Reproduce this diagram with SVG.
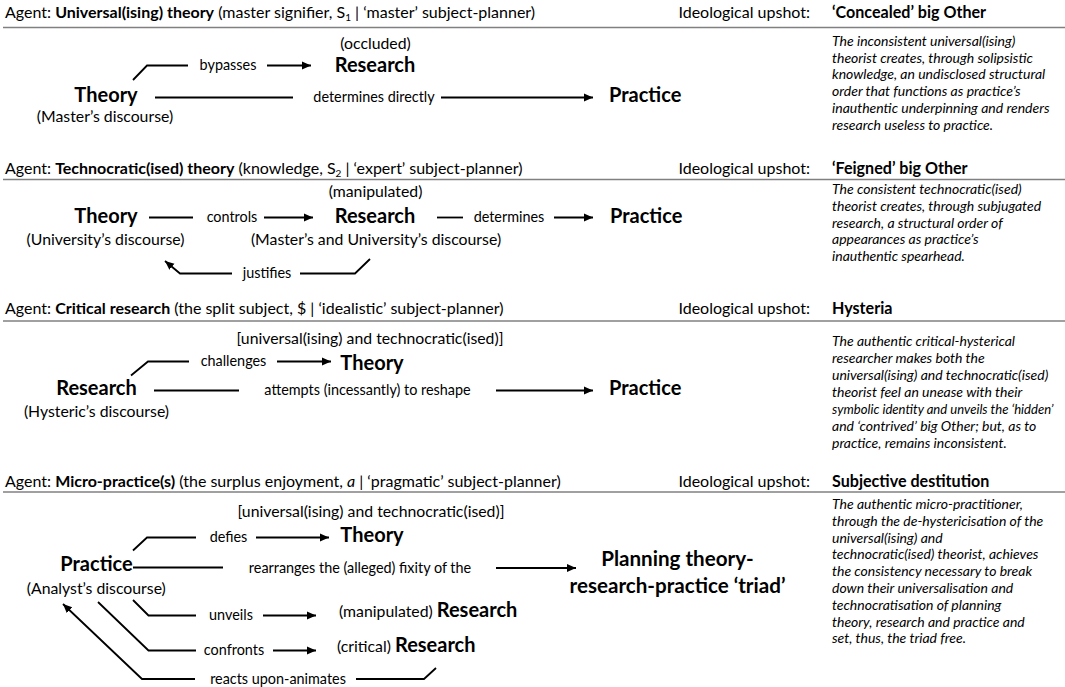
<svg xmlns="http://www.w3.org/2000/svg" width="1065" height="687" viewBox="0 0 1065 687">
<defs>
<style>
text{font-family:Lato,"Open Sans","Liberation Sans",sans-serif;fill:#000}
.hd{font-size:16px}
.ut{font-size:16.1px;font-weight:bold}
.b{font-weight:bold}
.node{font-size:20px;font-weight:bold}
.tri{font-size:20.6px;font-weight:bold}
.sub{font-size:15.8px}
.lbl{font-size:14.4px}
.desc{font-size:14px;font-style:italic}
.sep{stroke:#808080;stroke-width:1.5;fill:none}
.ln{stroke:#000;stroke-width:1.8;fill:none}
.ar{stroke:#000;stroke-width:1.8;fill:none;marker-end:url(#ah)}
</style>
<marker id="ah" markerUnits="userSpaceOnUse" markerWidth="10" markerHeight="10" refX="9" refY="5" orient="auto">
<path d="M0,1 L9,5 L0,9 z" fill="#000"/>
</marker>
</defs>
<rect width="1065" height="687" fill="#fff"/>

<g id="headers">
<text class="hd" x="5" y="18">Agent: <tspan class="b">Universal(ising) theory</tspan> (master signifier, S<tspan font-size="10" dy="3">1</tspan><tspan dy="-3"> | ‘master’ subject-planner)</tspan></text>
<text class="hd" x="810" y="18" text-anchor="end">Ideological upshot:</text>
<text class="ut" x="832" y="18">‘Concealed’ big Other</text>
<line class="sep" x1="3" y1="27.5" x2="1065" y2="27.5"/>

<text class="hd" x="5" y="174">Agent: <tspan class="b">Technocratic(ised) theory</tspan> (knowledge, S<tspan font-size="10" dy="3">2</tspan><tspan dy="-3"> | ‘expert’ subject-planner)</tspan></text>
<text class="hd" x="810" y="174" text-anchor="end">Ideological upshot:</text>
<text class="ut" x="832" y="174">‘Feigned’ big Other</text>
<line class="sep" x1="3" y1="179.5" x2="1065" y2="179.5"/>

<text class="hd" x="5" y="314">Agent: <tspan class="b">Critical research</tspan> (the split subject, $ | ‘idealistic’ subject-planner)</text>
<text class="hd" x="810" y="314" text-anchor="end">Ideological upshot:</text>
<text class="ut" x="832" y="314">Hysteria</text>
<line class="sep" x1="3" y1="321" x2="1065" y2="321"/>

<text class="hd" x="5" y="487">Agent: <tspan class="b">Micro-practice(s)</tspan> (the surplus enjoyment, <tspan font-style="italic">a</tspan> | ‘pragmatic’ subject-planner)</text>
<text class="hd" x="810" y="487" text-anchor="end">Ideological upshot:</text>
<text class="ut" x="832" y="487">Subjective destitution</text>
<line class="sep" x1="3" y1="492" x2="1065" y2="492"/>
</g>

<g id="connectors">
<!-- section 1 -->
<polyline class="ln" points="133,80 147,65.5 188,65.5"/>
<text class="lbl" x="228" y="69.5" text-anchor="middle">bypasses</text>
<line class="ar" x1="267" y1="65.5" x2="311" y2="65.5"/>
<line class="ln" x1="155" y1="97.5" x2="293" y2="97.5"/>
<text class="lbl" x="374" y="102" text-anchor="middle">determines directly</text>
<line class="ar" x1="441" y1="97.5" x2="593" y2="97.5"/>
<!-- section 2 -->
<line class="ln" x1="149" y1="217.5" x2="193" y2="217.5"/>
<text class="lbl" x="232" y="222" text-anchor="middle">controls</text>
<line class="ar" x1="264" y1="217.5" x2="313" y2="217.5"/>
<line class="ln" x1="437" y1="217.5" x2="463" y2="217.5"/>
<text class="lbl" x="509" y="222" text-anchor="middle">determines</text>
<line class="ar" x1="554" y1="217.5" x2="593" y2="217.5"/>
<polyline class="ln" points="370,259 355,273.5 300,273.5"/>
<text class="lbl" x="267" y="278" text-anchor="middle">justifies</text>
<polyline class="ar" points="232,273.5 180,273.5 165,261"/>
<!-- section 3 -->
<polyline class="ln" points="131,375.5 148,361.5 189,361.5"/>
<text class="lbl" x="233.5" y="366" text-anchor="middle">challenges</text>
<line class="ar" x1="277" y1="361.5" x2="331" y2="361.5"/>
<line class="ln" x1="154" y1="390.5" x2="239" y2="390.5"/>
<text class="lbl" x="367.5" y="395" text-anchor="middle">attempts (incessantly) to reshape</text>
<line class="ar" x1="496" y1="390.5" x2="593" y2="390.5"/>
<!-- section 4 -->
<polyline class="ln" points="133,550.5 147,537.5 196,537.5"/>
<text class="lbl" x="228.5" y="542" text-anchor="middle">defies</text>
<line class="ar" x1="256" y1="537.5" x2="329" y2="537.5"/>
<line class="ln" x1="133" y1="567.5" x2="223" y2="567.5"/>
<text class="lbl" x="360" y="572.5" text-anchor="middle">rearranges the (alleged) fixity of the</text>
<line class="ar" x1="496" y1="568" x2="576" y2="568"/>
<polyline class="ln" points="133,600 148.5,615.5 196,615.5"/>
<text class="lbl" x="231" y="620" text-anchor="middle">unveils</text>
<line class="ar" x1="263" y1="615.5" x2="316" y2="615.5"/>
<polyline class="ln" points="98,602 148.5,650.5 196,650.5"/>
<text class="lbl" x="234" y="655" text-anchor="middle">confronts</text>
<line class="ar" x1="273" y1="650.5" x2="316" y2="650.5"/>
<polyline class="ln" points="436,668 424,679 356,679"/>
<text class="lbl" x="278" y="684" text-anchor="middle">reacts upon-animates</text>
<polyline class="ar" points="195,679 142,679 63,604"/>
</g>

<g id="s1-research">
<text class="sub" x="375.5" y="48.5" text-anchor="middle">(occluded)</text>
<text class="node" x="375" y="72" text-anchor="middle">Research</text>
</g>
<g id="s1-theory">
<text class="node" x="106" y="102" text-anchor="middle">Theory</text>
<text class="sub" x="105" y="122" text-anchor="middle">(Master’s discourse)</text>
</g>
<g id="s1-practice"><text class="node" x="609" y="102">Practice</text></g>
<g id="s1-desc">
<text class="desc"><tspan x="832" y="46">The inconsistent universal(ising)</tspan><tspan x="832" y="62.7">theorist creates, through solipsistic</tspan><tspan x="832" y="79.4">knowledge, an undisclosed structural</tspan><tspan x="832" y="96.1">order that functions as practice’s</tspan><tspan x="832" y="112.8">inauthentic underpinning and renders</tspan><tspan x="832" y="129.5">research useless to practice.</tspan></text>
</g>

<g id="s2-theory">
<text class="node" x="106" y="223" text-anchor="middle">Theory</text>
<text class="sub" x="105.5" y="245" text-anchor="middle">(University’s discourse)</text>
</g>
<g id="s2-research">
<text class="sub" x="375.5" y="197" text-anchor="middle">(manipulated)</text>
<text class="node" x="375" y="223" text-anchor="middle">Research</text>
<text class="sub" x="376" y="245" text-anchor="middle">(Master’s and University’s discourse)</text>
</g>
<g id="s2-practice"><text class="node" x="610" y="223">Practice</text></g>
<g id="s2-desc">
<text class="desc"><tspan x="832" y="194">The consistent technocratic(ised)</tspan><tspan x="832" y="210.8">theorist creates, through subjugated</tspan><tspan x="832" y="227.6">research, a structural order of</tspan><tspan x="832" y="244.4">appearances as practice’s</tspan><tspan x="832" y="261.2">inauthentic spearhead.</tspan></text>
</g>

<g id="s3-research">
<text class="node" x="96.5" y="395" text-anchor="middle">Research</text>
<text class="sub" x="96.5" y="417" text-anchor="middle">(Hysteric’s discourse)</text>
</g>
<g id="s3-theory">
<text class="sub" x="370" y="344" text-anchor="middle">[universal(ising) and technocratic(ised)]</text>
<text class="node" x="372" y="370" text-anchor="middle">Theory</text>
</g>
<g id="s3-practice"><text class="node" x="609" y="395">Practice</text></g>
<g id="s3-desc">
<text class="desc" x="832" y="346">The authentic critical-hysterical</text>
<text class="desc" x="832" y="363">researcher makes both the</text>
<text class="desc" x="832" y="380">universal(ising) and technocratic(ised)</text>
<text class="desc" x="832" y="397">theorist feel an unease with their</text>
<text class="desc" x="832" y="414" style="font-size:13.1px">symbolic identity and unveils the ‘hidden’</text>
<text class="desc" x="832" y="431">and ‘contrived’ big Other; but, as to</text>
<text class="desc" x="832" y="448">practice, remains inconsistent.</text>
</g>

<g id="s4-practice">
<text class="node" x="96.5" y="571" text-anchor="middle">Practice</text>
<text class="sub" x="96.3" y="594" text-anchor="middle">(Analyst’s discourse)</text>
</g>
<g id="s4-theory">
<text class="sub" x="371" y="517" text-anchor="middle">[universal(ising) and technocratic(ised)]</text>
<text class="node" x="372" y="542" text-anchor="middle">Theory</text>
</g>
<g id="s4-triad">
<text class="tri" x="677.5" y="566" text-anchor="middle">Planning theory-</text>
<text class="tri" x="677.5" y="593" text-anchor="middle">research-practice ‘triad’</text>
</g>
<g id="s4-manip-research">
<text class="sub" x="339" y="617">(manipulated) <tspan class="node">Research</tspan></text>
</g>
<g id="s4-crit-research">
<text class="sub" x="337" y="652">(critical) <tspan class="node">Research</tspan></text>
</g>
<g id="s4-desc">
<text class="desc"><tspan x="832" y="509">The authentic micro-practitioner,</tspan><tspan x="832" y="525.8">through the de-hystericisation of the</tspan><tspan x="832" y="542.6">universal(ising) and</tspan><tspan x="832" y="559.4">technocratic(ised) theorist, achieves</tspan><tspan x="832" y="576.2">the consistency necessary to break</tspan><tspan x="832" y="593">down their universalisation and</tspan><tspan x="832" y="609.8">technocratisation of planning</tspan><tspan x="832" y="626.6">theory, research and practice and</tspan><tspan x="832" y="643.4">set, thus, the triad free.</tspan></text>
</g>
</svg>
